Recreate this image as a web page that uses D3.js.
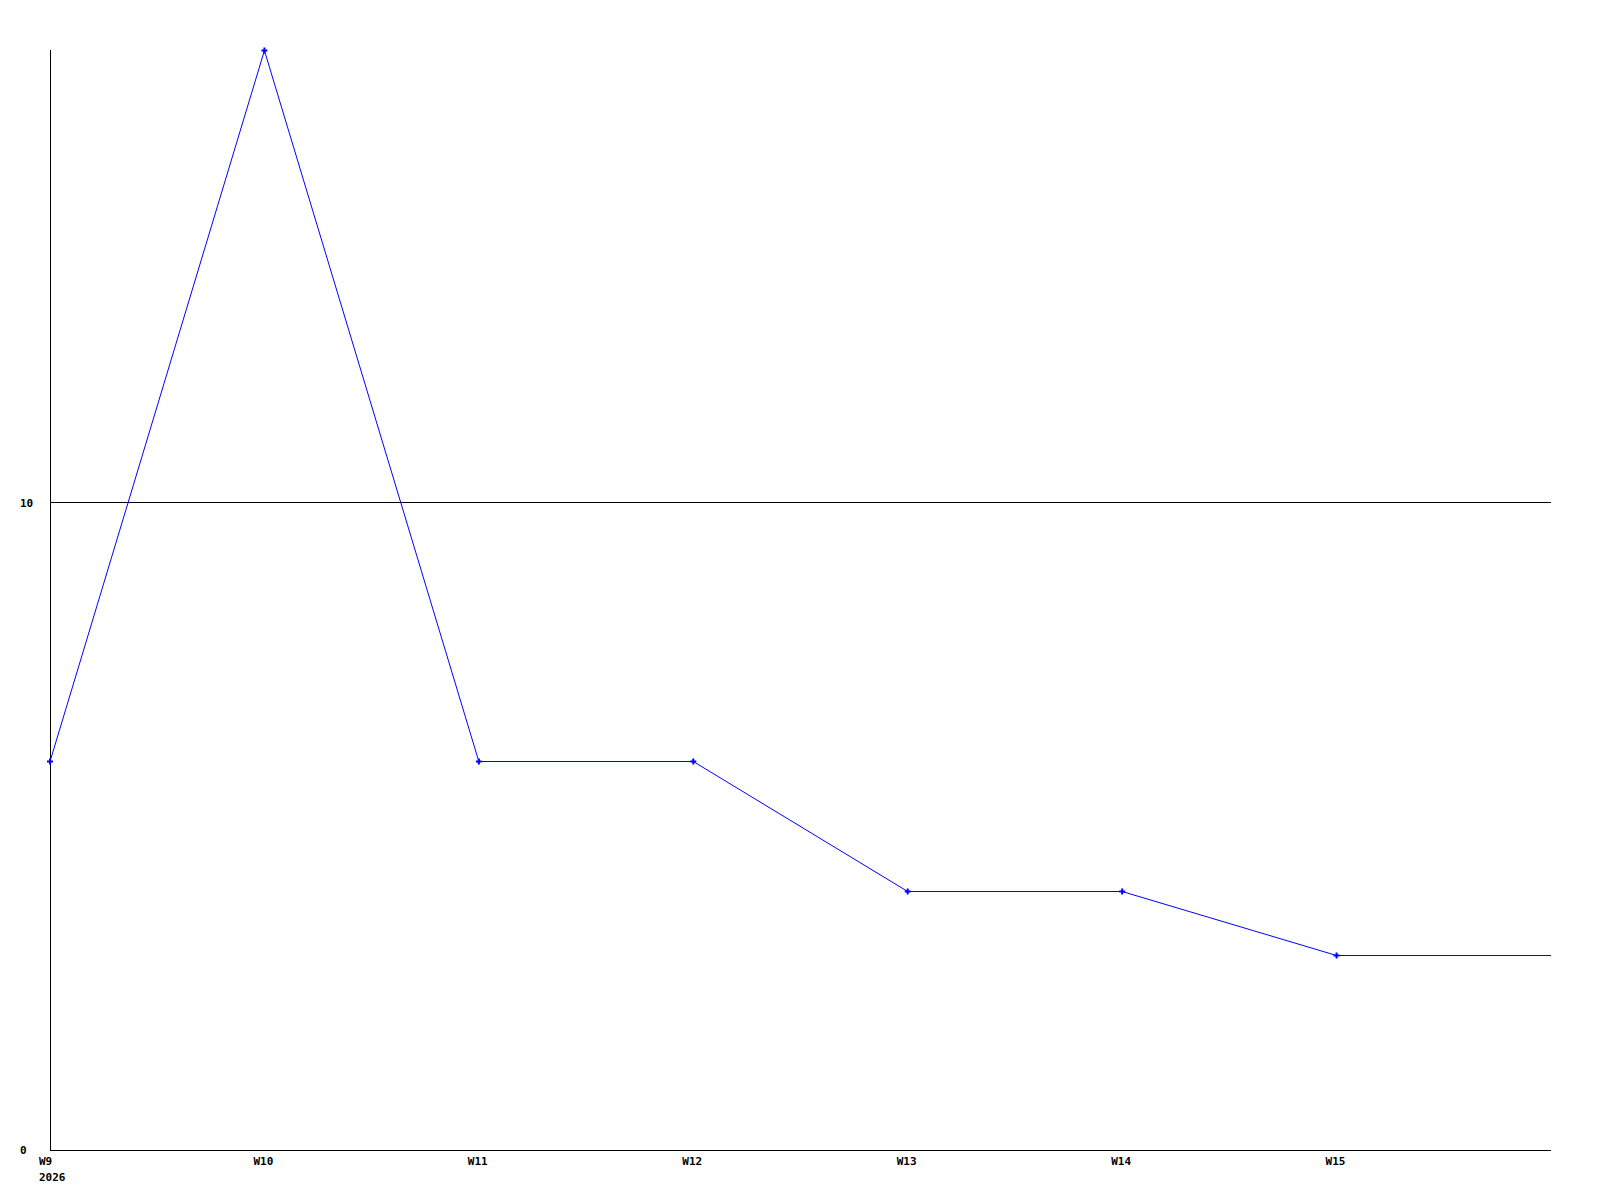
<!DOCTYPE html>
<html>
<head>
<meta charset="utf-8">
<script src="https://cdn.jsdelivr.net/npm/d3@7"></script>
<style>
  html, body { margin: 0; padding: 0; background: #fff; }
  svg text { font-family: "DejaVu Sans Mono", "Liberation Mono", monospace; font-weight: bold; font-size: 11px; fill: #000; }
</style>
</head>
<body>
<script>
'use strict'

// week index, label and value
var weeks = [9, 10, 11, 12, 13, 14, 15, 16]
  , weekLabels = ['W9', 'W10', 'W11', 'W12', 'W13', 'W14', 'W15', '']
  , values = [6, 17, 6, 6, 4, 4, 3, 3]
  , yTicks = [0, 10]
  , year = '2026'

;(function(){
  var w = 1600, h = 1200
    , mLeft = 50, mRight = 1551, mTop = 50, mBottom = 1150
    , svg = d3.select('body').append('svg').attr('width', w).attr('height', h)
    , x = d3.scaleLinear().domain([d3.min(weeks), d3.max(weeks)]).range([mLeft, mRight])
    , y = d3.scaleLinear().domain([0, 17]).range([mBottom, mTop])
    , data = weeks.map(function(d, i){ return { wk: d, label: weekLabels[i], v: values[i] } })
    , py = function(v){ return Math.floor(y(v)) + 0.5 }

  // horizontal grid line(s) above zero
  svg.selectAll('line.grid').data(yTicks.filter(function(d){ return d > 0 })).enter().append('line')
    .attr('class', 'grid')
    .attr('x1', mLeft).attr('x2', mRight)
    .attr('y1', py).attr('y2', py)
    .attr('stroke', '#000').attr('stroke-width', 1)

  // axes
  svg.append('line').attr('x1', mLeft + 0.5).attr('x2', mLeft + 0.5).attr('y1', mTop).attr('y2', mBottom + 0.5)
    .attr('stroke', '#000')
  svg.append('line').attr('x1', mLeft).attr('x2', mRight).attr('y1', mBottom + 0.5).attr('y2', mBottom + 0.5)
    .attr('stroke', '#000')

  // y labels
  svg.selectAll('text.ylab').data(yTicks).enter().append('text')
    .attr('class', 'ylab')
    .attr('x', 20)
    .attr('y', function(d){ return y(d) + 4 })
    .text(function(d){ return d })

  // x labels
  svg.selectAll('text.xlab').data(data).enter().append('text')
    .attr('class', 'xlab')
    .attr('x', function(d){ return x(d.wk) - 11 })
    .attr('y', mBottom + 15)
    .text(function(d){ return d.label })
  svg.append('text').attr('x', x(weeks[0]) - 11).attr('y', mBottom + 31).text(year)

  // series line
  var line = d3.line().x(function(d){ return x(d.wk) }).y(function(d){ return py(d.v) })
  svg.append('path').datum(data).attr('d', line)
    .attr('fill', 'none').attr('stroke', '#0000ff').attr('stroke-width', 1)

  // markers (not on the trailing edge point)
  svg.selectAll('path.pt').data(data.slice(0, -1)).enter().append('path')
    .attr('class', 'pt')
    .attr('d', d3.symbol().type(d3.symbolCross).size(20))
    .attr('transform', function(d){ return 'translate(' + x(d.wk) + ',' + py(d.v) + ')' })
    .attr('fill', '#0000ff')
})()
</script>
</body>
</html>
